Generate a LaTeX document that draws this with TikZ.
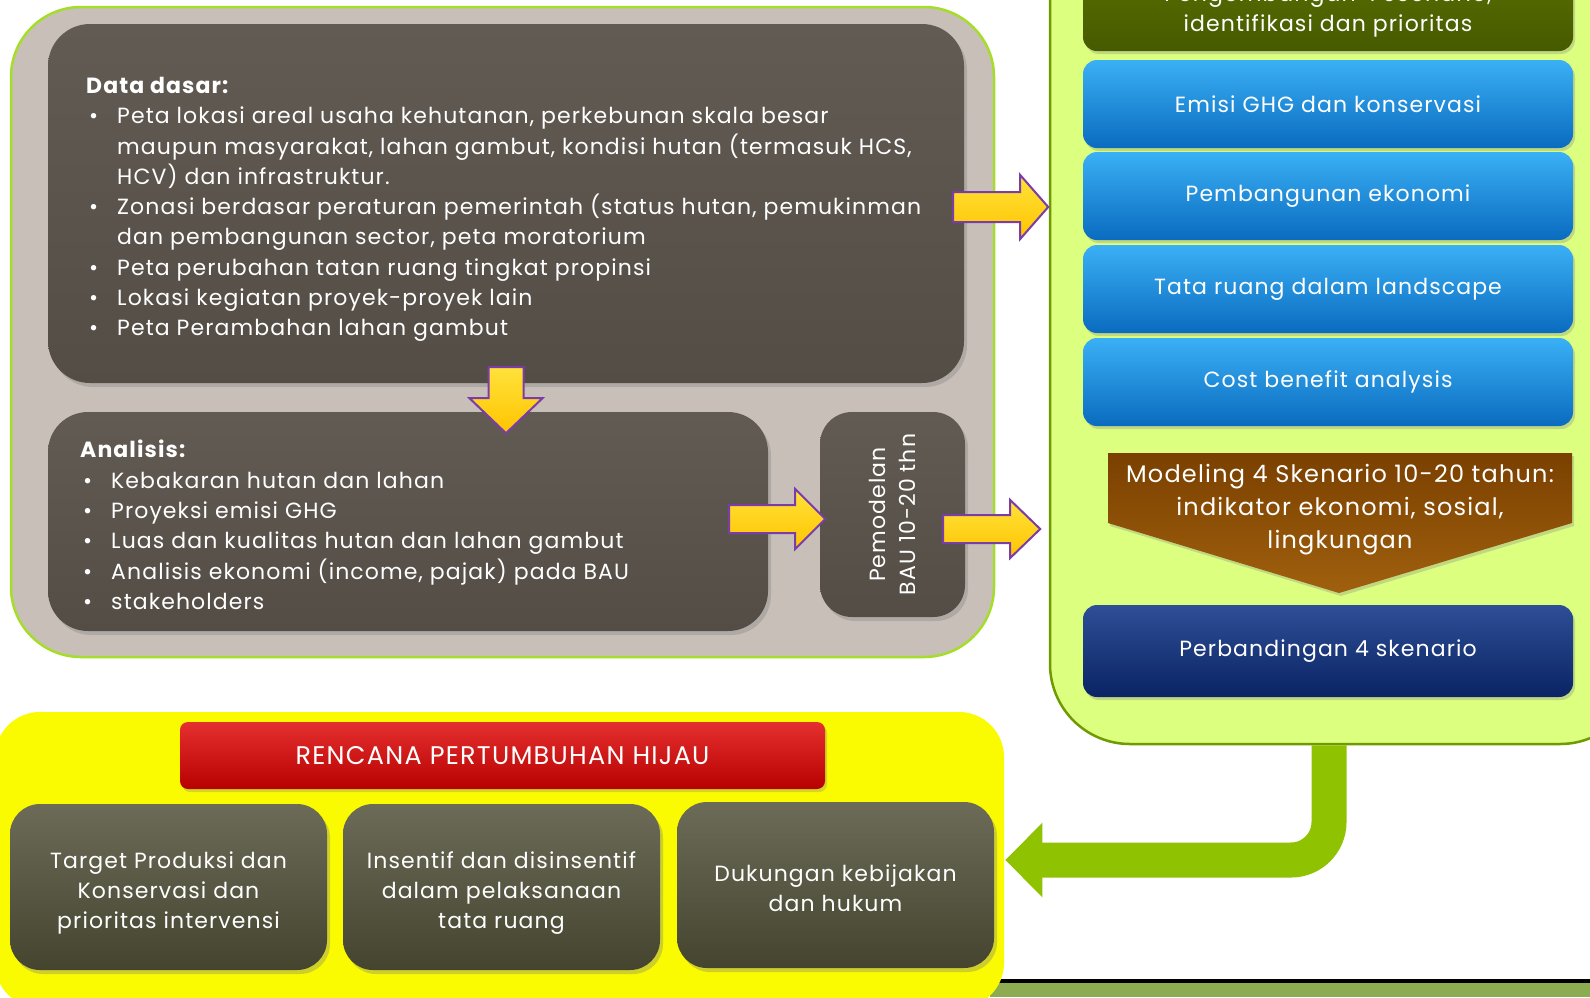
\documentclass[tikz,border=0pt]{standalone}
\usepackage{fontspec}
\setmainfont{Poppins}[LetterSpace=5]
\usetikzlibrary{positioning,calc,shadows,arrows.meta}

\definecolor{panelGray}{HTML}{C8C0B8}
\definecolor{panelLine}{HTML}{A6DC2A}
\definecolor{darkTop}{HTML}{625B53}
\definecolor{darkBot}{HTML}{544D46}
\definecolor{limeFill}{HTML}{DCFF80}
\definecolor{limeLine}{HTML}{6F9A00}
\definecolor{oliveTop}{HTML}{5A7000}
\definecolor{oliveBot}{HTML}{465A00}
\definecolor{blueTop}{HTML}{3AB0F5}
\definecolor{blueBot}{HTML}{0A6BBF}
\definecolor{brownTop}{HTML}{7A4000}
\definecolor{brownBot}{HTML}{A0600E}
\definecolor{navyTop}{HTML}{2E4E96}
\definecolor{navyBot}{HTML}{0A2464}
\definecolor{yellowPanel}{HTML}{FAFA00}
\definecolor{redTop}{HTML}{E53030}
\definecolor{redBot}{HTML}{B80000}
\definecolor{greyTop}{HTML}{6B6B58}
\definecolor{greyBot}{HTML}{44442F}
\definecolor{arrowGreen}{HTML}{8FC200}
\definecolor{arrowGold}{HTML}{FFC400}
\definecolor{arrowLight}{HTML}{FFE23A}
\definecolor{arrowPurple}{HTML}{7A3CA8}
\definecolor{stripGreen}{HTML}{8DAC52}

\newcommand{\itembul}{\makebox[31pt][l]{\hspace{3pt}\textbullet}}
\newcommand{\itemind}{\hspace*{31pt}}

\begin{document}
\begin{tikzpicture}[x=1pt, y=-1pt,
    txt/.style={text=white, font=\fontsize{22}{30.3}\selectfont},
    panel/.style={line width=2.5pt, rounded corners=70pt, inner sep=0pt},
    darkbox/.style={rounded corners=42pt, top color=darkTop, bottom color=darkBot,
        inner sep=0pt, drop shadow={shadow xshift=3pt, shadow yshift=-4pt, opacity=0.35}},
    rbox/.style={rounded corners=14pt, minimum width=490pt, inner sep=0pt, align=center,
        txt, drop shadow={shadow xshift=2pt, shadow yshift=-3pt, opacity=0.3}},
    gbox/.style={rounded corners=30pt, top color=greyTop, bottom color=greyBot,
        minimum width=317pt, minimum height=166pt, inner sep=0pt,
        drop shadow={shadow xshift=3pt, shadow yshift=-4pt, opacity=0.35}},
    yarrow/.style={draw=arrowPurple, line width=2pt, line join=miter,
        top color=arrowLight, bottom color=arrowGold},
    garrow/.style={draw=arrowGreen, line width=35pt, rounded corners=38pt,
        -{Triangle[length=37pt, width=72pt]}}]

    \useasboundingbox[fill=white] (0,0) rectangle (1590,997);

    % Bottom strip
    \fill[black] (990,979) rectangle (1590,983);
    \fill[stripGreen] (990,983) rectangle (1590,997);

    % Data and analysis
    \node[panel, draw=panelLine, fill=panelGray, minimum width=983pt, minimum height=650pt] (base) at (502.5,332) {};

    \node[darkbox, minimum width=916pt, minimum height=359pt] (data) at (506,203.5) {};
    \node[txt, anchor=north west, align=left, inner sep=0pt] (datatext) at (86,77) {
        \textbf{Data dasar:}\\
        \itembul Peta lokasi areal usaha kehutanan, perkebunan skala besar\\
        \itemind maupun masyarakat, lahan gambut, kondisi hutan (termasuk HCS,\\
        \itemind HCV) dan infrastruktur.\\
        \itembul Zonasi berdasar peraturan pemerintah (status hutan, pemukinman\\
        \itemind dan pembangunan sector, peta moratorium\\
        \itembul Peta perubahan tatan ruang tingkat propinsi\\
        \itembul Lokasi kegiatan proyek-proyek lain\\
        \itembul Peta Perambahan lahan gambut};

    \node[darkbox, rounded corners=40pt, minimum width=720pt, minimum height=219pt] (ana) at (408,521.5) {};
    \node[txt, anchor=north west, align=left, inner sep=0pt] (anatext) at (80,440) {
        \textbf{Analisis:}\\
        \itembul Kebakaran hutan dan lahan\\
        \itembul Proyeksi emisi GHG\\
        \itembul Luas dan kualitas hutan dan lahan gambut\\
        \itembul Analisis ekonomi (income, pajak) pada BAU\\
        \itembul stakeholders};

    \node[darkbox, rounded corners=32pt, minimum width=145pt, minimum height=205pt] (pem) at (892.5,514.5) {};
    \node[txt, rotate=90, align=center] (pemtext) at (pem) {Pemodelan\\BAU 10-20 thn};

    % Scenario panel
    \node[panel, rounded corners=80pt, draw=limeLine, fill=limeFill, minimum width=590pt, minimum height=824pt] (rp) at (1345,332) {};

    \node[rbox, top color=oliveTop, bottom color=oliveBot, minimum height=90pt] (dev) at (1328,6) {};
    \node[txt, align=center] (devtext) at (1328,11) {Pengembangan 4 scenario,\\identifikasi dan prioritas};
    \node[rbox, top color=blueTop, bottom color=blueBot, minimum height=88pt] (ghg) at (1328,104) {Emisi GHG dan konservasi};
    \node[rbox, top color=blueTop, bottom color=blueBot, minimum height=88pt] (eko) at (1328,196) {Pembangunan ekonomi};
    \node[rbox, top color=blueTop, bottom color=blueBot, minimum height=88pt] (tata) at (1328,289) {Tata ruang dalam landscape};
    \node[rbox, top color=blueTop, bottom color=blueBot, minimum height=88pt] (cba) at (1328,382) {Cost benefit analysis};

    \shade[top color=brownTop, bottom color=brownBot, drop shadow={shadow xshift=2pt, shadow yshift=-3pt, opacity=0.3}]
        (1108,453) -- (1572,453) -- (1572,523) -- (1339,593) -- (1108,523) -- cycle;
    \node[txt, font=\fontsize{24}{33}\selectfont, align=center] (mod) at (1340,510)
        {Modeling 4 Skenario 10-20 tahun:\\indikator ekonomi, sosial,\\lingkungan};

    \node[rbox, top color=navyTop, bottom color=navyBot, minimum height=92pt] (cmp) at (1328,651) {Perbandingan 4 skenario};

    % Green growth plan
    \node[panel, rounded corners=45pt, draw=none, fill=yellowPanel, minimum width=1009pt, minimum height=296pt] (yp) at (499.5,860) {};

    \node[rounded corners=8pt, top color=redTop, bottom color=redBot, minimum width=645pt, minimum height=67pt,
        inner sep=0pt, txt, font=\fontsize{25.5}{30}\selectfont,
        drop shadow={shadow xshift=2pt, shadow yshift=-3pt, opacity=0.3}] (rph) at (502.5,755.5)
        {RENCANA PERTUMBUHAN HIJAU};

    \node[gbox] (target) at (168.5,887) {};
    \node[gbox] (insentif) at (501.5,887) {};
    \node[gbox] (hukum) at (835.5,885) {};
    \node[txt, align=center] (targettext) at ([yshift=-6pt]target.center) {Target Produksi dan\\Konservasi dan\\prioritas intervensi};
    \node[txt, align=center] (insentiftext) at ([yshift=-6pt]insentif.center) {Insentif dan disinsentif\\dalam pelaksanaan\\tata ruang};
    \node[txt, align=center] (hukumtext) at ([yshift=-3pt]hukum.center) {Dukungan kebijakan\\dan hukum};

    % Arrows
    \draw[yarrow] ($(data.east)+(-11,-11.5)$) -- ++(67,0) -- ++(0,-17) -- ++(28,32) -- ++(-28,32)
        -- ++(0,-17) -- ++(-67,0) -- cycle;
    \draw[yarrow] ($(data.south)+(-17.5,-16)$) -- ++(35,0) -- ++(0,31) -- ++(19,0) -- ++(-36.5,35)
        -- ++(-36.5,-35) -- ++(19,0) -- cycle;
    \draw[yarrow] ($(ana.east)+(-39,-16.5)$) -- ++(66,0) -- ++(0,-16) -- ++(30,30) -- ++(-30,30)
        -- ++(0,-16) -- ++(-66,0) -- cycle;
    \draw[yarrow] ($(pem.east)+(-22,0.5)$) -- ++(67,0) -- ++(0,-15) -- ++(30,29) -- ++(-30,29)
        -- ++(0,-15) -- ++(-67,0) -- cycle;

    \draw[garrow] ([xshift=-16pt]rp.south) |- (yp.east);
\end{tikzpicture}
\end{document}
